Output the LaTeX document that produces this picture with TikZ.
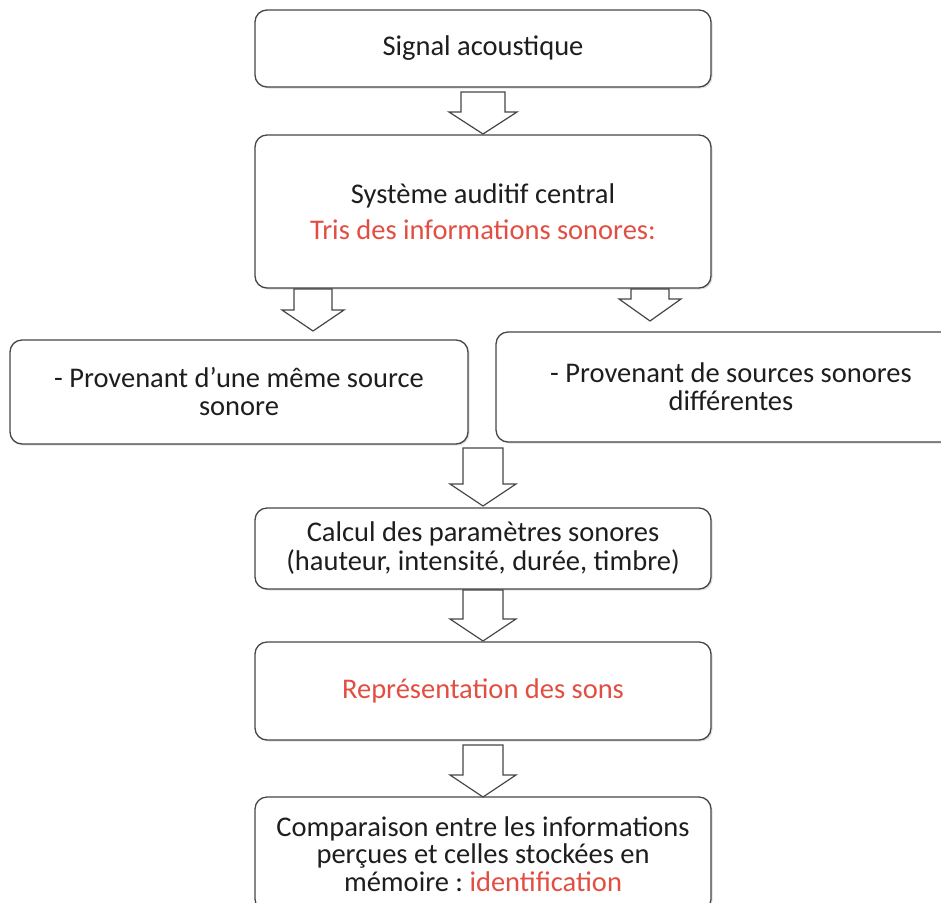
\documentclass[tikz,border=0pt]{standalone}
\usepackage{fontspec}
\setmainfont{Carlito}
\usetikzlibrary{shadows}
\definecolor{txtred}{RGB}{226,78,66}
\definecolor{edge}{RGB}{70,70,70}
\definecolor{txt}{RGB}{30,30,30}
\tikzset{
  box/.style={draw=edge, line width=1.3pt, rounded corners=12pt, fill=white,
    align=center, text=txt, inner sep=0pt,
    drop shadow={shadow xshift=1.5pt, shadow yshift=-1.5pt, opacity=0.25, fill=gray}},
  barrow/.style={draw=edge, line width=1.2pt, fill=white, line join=miter}
}
\newcommand{\fsz}[1]{\fontsize{28.5}{#1}\selectfont}
% block arrow: center x, top y, head y, tip y, shaft half, head half
\newcommand{\bdarrow}[6]{%
  \path[barrow] (#1-#5,#2) -- (#1+#5,#2) -- (#1+#5,#3) -- (#1+#6,#3) -- (#1,#4)
    -- (#1-#6,#3) -- (#1-#5,#3) -- cycle;}
\begin{document}
\begin{tikzpicture}[x=1pt,y=-1pt]
\useasboundingbox (0,0) rectangle (941,902);
\node[box, minimum width=456pt, minimum height=77pt, font=\fsz{34}] (b1) at (483,48.5) {Signal acoustique};
\node[box, minimum width=456pt, minimum height=153pt, font=\fsz{36}] (b2) at (483,211.5)
  {Système auditif central\\\textcolor{txtred}{Tris des informations sonores:}};
\node[box, minimum width=458pt, minimum height=104pt, font=\fsz{28}] (b3) at (239,392)
  {- Provenant d’une même source\\sonore};
\node[box, minimum width=470pt, minimum height=110pt, font=\fsz{28}] (b4) at (731,387)
  {- Provenant de sources sonores\\différentes};
\node[box, minimum width=456pt, minimum height=81pt, font=\fsz{29}] (b5) at (483,548.5)
  {Calcul des paramètres sonores\\(hauteur, intensité, durée, timbre)};
\node[box, minimum width=456pt, minimum height=98pt, font=\fsz{34}] (b6) at (483,691)
  {\textcolor{txtred}{Représentation des sons}};
\node[box, minimum width=456pt, minimum height=114pt, font=\fsz{27.5}] (b7) at (483,854)
  {Comparaison entre les informations\\perçues et celles stockées en\\mémoire :~\textcolor{txtred}{identification}};
\bdarrow{483}{92}{112}{134}{22}{34}
\bdarrow{313}{289}{310}{331}{19}{31}
\bdarrow{650}{289}{299}{321}{19}{31}
\bdarrow{483}{448}{484}{506}{20}{33}
\bdarrow{483}{590}{619}{641}{20}{33}
\bdarrow{483}{745}{775}{797}{20}{33}
\end{tikzpicture}
\end{document}
